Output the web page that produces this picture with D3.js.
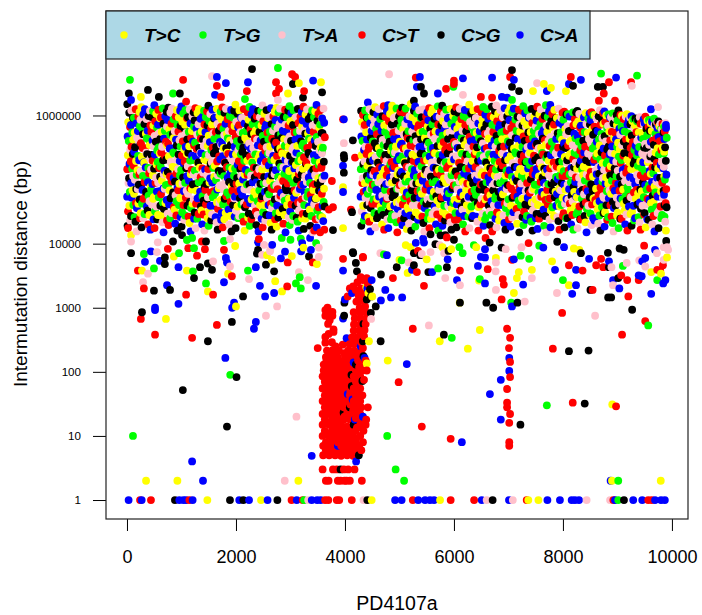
<!DOCTYPE html>
<html>
<head>
<meta charset="utf-8">
<script src="https://cdn.jsdelivr.net/npm/d3@7"></script>
<style>
body { margin: 0; background: #fff; }
text { font-family: "Liberation Sans", Arial, sans-serif; fill: #000; }
</style>
</head>
<body>
<div id="chart"></div>
<script>
const mutationLabels = ["T>C", "T>G", "T>A", "C>T", "C>G", "C>A"];
const mutationColors = ["#ffff00", "#00ff00", "#ffc0cb", "#ff0000", "#000000", "#0000ff"];
const xTicks = [0, 2000, 4000, 6000, 8000, 10000];
const yTicks = [1, 10, 100, 1000, 10000, 1000000];

// distance == 1 row along the bottom
const floorPos = [30,240,270,440,880,960,1035,1085,1145,1205,1475,1890,2060,2135,2240,2460,2580,2760,3020,3115,3225,3250,3325,3390,3490,3555,3635,3695,3850,3895,4125,4340,4410,4490,4920,5040,5245,5345,5470,5560,5635,5745,5940,6370,6510,6600,6710,7010,7080,7335,7365,7550,7715,7945,8160,8220,8295,8435,8865,8925,8955,9015,9120,9290,9455,9565,9630,9690,9800,9870];
const floorType = [5,3,5,3,4,5,5,5,3,5,0,4,5,4,5,0,5,4,3,5,3,1,2,5,5,5,3,3,3,3,3,2,4,0,5,5,3,5,5,5,5,0,3,3,5,2,4,5,2,3,0,0,5,5,5,5,5,2,2,3,5,1,4,5,5,3,3,5,5,5];

// scattered marks read one by one: [position, distance, type]
const sparseMarks = [
[55,3600000,1],[1030,3600000,3],[1560,4100000,2],[1650,4000000,5],[1815,3200000,5],[2295,5300000,4],[2220,3300000,5],[2770,5500000,1],[2735,3300000,3],[3030,4400000,3],[3085,4000000,3],[3155,3200000,0],[3045,3100000,4],[3415,3500000,5],[3560,3300000,0],[1650,2900000,3],[2200,2400000,3],[2790,2600000,3],[2735,2200000,3],[35,2200000,4],[385,2500000,4],[255,1950000,0],[585,1950000,4],[970,2200000,4],[845,2200000,1],[1615,2100000,5],[1725,1950000,3],[3250,2400000,3],[3580,2300000,4],[3230,1900000,4],[2955,2200000,0],[75,1750000,5],[1085,1650000,3],[2165,1800000,1],[2770,1750000,2],
[3965,870000,3],[3980,870000,5],[4145,410000,4],[3980,370000,2],[4185,220000,3],[3980,240000,4],[3985,215000,4],[3965,165000,5],[3980,128000,4],[3760,95000,3],[3965,76000,0],[3965,64000,5],[3780,37000,3],[3705,34000,3],[3780,16300,4],[4130,31000,4],[4110,34000,3],[3965,17500,0],[4150,7100,4],[4330,6100,3],[4810,4400000,2],[4420,1600000,5],[4865,1420000,0],
[5300,3900000,3],[5375,4000000,5],[6165,3800000,5],[6700,3900000,5],[7065,5100000,4],[7030,4000000,3],[7100,3600000,5],[7065,2800000,4],[7195,2400000,4],[6000,3500000,3],[6000,3100000,3],[5990,2800000,1],[5855,2600000,3],[5705,2200000,5],[6165,2100000,2],[5320,2800000,5],[5395,2800000,4],[5450,2200000,4],[5265,1700000,4],[8700,4500000,1],[9360,4200000,1],[8975,3900000,5],[8845,3300000,3],[9250,3300000,3],[9265,2900000,2],[8330,3600000,5],[8145,4000000,3],[8110,3100000,5],[8185,2900000,4],[7525,3200000,2],[7650,3100000,0],[7450,2400000,0],[7780,2700000,0],[7705,2400000,5],[8640,2800000,4],[8735,2800000,4],[8750,2200000,3],[8955,1700000,3],[8660,1700000,3],[8055,2400000,0],[6495,1950000,3],[6700,1900000,3],[6880,1950000,5],[6975,1900000,5],[7065,1750000,1],[9615,1250000,5],[9745,1350000,2],[9890,710000,5],[9745,770000,3],[9635,800000,5],
// lower edge, left block
[20,17500,3],[75,13600,0],[75,10800,2],[75,7100,4],[310,6900,1],[330,5200,5],[200,3800,3],[275,3800,0],[385,3400,2],[495,4100,1],[695,4800,4],[695,6100,4],[605,5400,5],[550,7400,2],[440,7600,5],[565,10500,2],[750,8300,3],[860,6300,0],[955,7100,1],[845,10800,4],[1010,13600,4],[1125,8500,3],[1230,8500,1],[1285,6500,3],[1195,12300,1],[1100,11400,1],[1375,10800,3],[1450,10800,4],[1430,8200,3],[945,4300,5],[1100,3800,0],[1210,3700,1],[1340,4300,4],[1230,2900,4],[1560,3900,4],[1485,4900,4],[1580,5300,2],[1815,6000,5],[1835,5100,5],[1890,4400,2],[1855,3400,0],[1925,3100,3],[1780,2500,5],[2220,3800,1],[2365,4300,5],[2700,3700,4],[2240,2800,2],[2720,2600,0],[2440,2200,5],[2130,1500,4],[2700,1700,5],[2845,1800,0],[2940,2150,3],[3100,2400,1],[3190,2000,1],[3170,3000,1],[3155,3600,2],[3320,2700,2],[3470,2200,5],[2535,1500,5],[2755,1050,2],
[295,2500,2],[310,2000,3],[495,1850,4],[735,2250,5],[790,1900,4],[1085,1600,3],[945,1150,5],[1450,2400,1],[1485,1800,0],[1580,1600,3],[1965,1200,5],[2000,1050,0],[1930,1000,5],[515,1000,5],
[1780,8000,3],[1890,11800,2],[1985,9200,0],[1780,11000,1],[2405,10500,5],[2405,8000,4],[2385,7000,4],[2480,6700,2],[2630,8000,2],[2570,6600,0],[2515,9600,2],[2420,11800,3],[2665,9600,5],[2625,7600,2],[2660,5600,0],[2550,4700,4],[2825,5900,5],[2950,5100,3],[3025,6400,0],[2900,7500,5],[3195,7600,5],[3215,10200,5],[3190,12000,1],[3360,12300,5],[3240,8700,0],[3470,10200,1],[3375,8000,5],[3340,6300,4],[3520,8700,2],[3520,6200,2],[3485,4800,0],[3410,5100,3],[2840,12300,1],[3000,11500,1],[3435,16000,3],[3545,15000,3],[3965,3800,5],[4220,3700,4],[4200,5000,4],[4145,7400,4],[3965,5800,3],[4330,6200,3],
// lower scatter, left block
[275,850,4],[515,920,5],[255,670,3],[715,670,0],[515,380,3],[1195,340,3],[1650,540,3],[1925,600,4],[2365,600,5],[2330,470,5],[2550,750,2],[1485,300,4],[1805,165,5],[1895,90,1],[2010,83,4],[1025,52,4],[1835,14,4],[110,10,1],[1195,4,5],[3110,20,2],[3390,4.9,5],[1395,2,5],[350,2,0],[925,2,0],[2895,2,2],[3145,2,0],[4655,300,4],[4785,150,0],[4985,69,3],[4775,10,1],[4930,3,1],[5085,2,1],
[4475,830,4],[4565,1050,4],[4660,1300,5],[4845,1450,5],[4740,1900,5],[4490,2700,5],[4660,3300,4],[4880,2900,3],[4460,1950,4],
// right block, lower
[5050,1450,5],[5450,2200,3],[5320,3600,3],[5530,3600,4],[5600,3600,5],[5710,4100,1],[5870,4300,4],[6110,3800,3],[5840,2900,2],[6055,2700,5],[6110,2250,2],[6440,4500,5],[6475,2800,1],[6460,2650,0],[6570,2400,5],[6765,3700,2],[6895,2800,3],[6915,2300,3],[6770,1900,2],[6875,1350,3],[7100,1700,0],[7270,2300,5],[7190,3600,0],[7155,2900,0],[7430,3900,0],[7430,2900,2],[7300,1250,2],[7165,1200,4],[7050,1200,1],[7065,1050,5],[6110,1200,4],[6105,1200,0],[6595,1200,4],[6720,1000,4],
[7890,1700,2],[8170,1650,5],[8000,2700,1],[8110,2250,0],[8240,2250,5],[8505,1900,4],[8545,1900,3],[7855,3900,5],[8110,4600,3],[8360,3800,3],[8845,4300,4],[8920,2700,5],[8920,2250,2],[9015,2900,4],[9070,3200,3],[9180,2700,3],[9035,2000,5],[8830,1450,4],[8885,1450,4],[9200,1500,3],[9620,1650,5],[9390,2700,3],[9390,3200,5],[9445,3100,5],[9620,3600,0],[9730,2700,1],[9840,2400,5],[9880,2700,5],[9800,3400,0],[9730,3900,3],[9785,3800,3],
[7985,830,3],[8590,750,2],[9270,930,4],[9565,530,1],[9510,620,3],[9085,380,3],
[5245,470,3],[5540,530,2],[5815,380,4],[5740,300,0],[5960,340,1],[6475,450,0],[6255,230,0],[5135,132,5],
[6975,470,3],[7030,340,3],[7010,235,3],[7015,165,5],[7030,143,3],[7015,103,5],[7030,83,3],[6860,75,5],[6975,54,3],[6660,45,5],[6975,33,3],[6975,28,3],[7030,22,3],[6860,18,5],[7015,16,3],[7220,15,4],[5410,14,3],[5940,9,3],[6145,8,5],[7015,8,3],[7015,7,3],
[7815,230,3],[8110,210,4],[8470,215,4],[7705,30,1],[8180,33,3],[8400,32,4],[8905,31,0],[8975,29,3],
[8875,2,5],[8900,2,0],[9015,2,1],[9795,2,0],
// gap-side marks above the red cluster
[4400,135,0],[4440,300,0],[4480,1500,4],
[6365,9500,1],[5900,7700,4],[5660,9800,4],[5790,8800,0],[5950,8200,0],
[4650,7100,2],[4770,6600,5],[4950,4300,4],[4715,6800,1],
// lower edge, right block
[5435,12000,5],[5570,14000,4],[5755,13500,4],[5840,13600,4],[6000,11500,4],[6100,8800,1],[6160,7100,1],[5820,7100,2],[5885,5700,5],[5380,6600,4],[6620,4000,3],[5870,12500,3],[6410,8800,0],[6570,6100,5],[6495,6200,5],[6570,8200,5],[6655,10400,4],[6580,12300,3],[6875,8700,4],[6770,6000,0],[6770,5100,2],[6950,8200,2],[7240,8800,2],[7370,10200,3],[7225,6500,1],[7380,5800,1],[7100,5700,5],[7065,5600,3],[7565,9300,1],[7640,8700,5],[7800,5300,0],[7895,10700,4],[8020,8800,5],[8200,8400,0],[8300,8000,0],[8330,7100,4],[8480,5800,5],[8610,4600,3],[8240,3900,5],[8700,5800,3],[8845,5300,5],[8825,7200,4],[9170,5000,2],[9100,4500,1],[8890,4300,2],[8740,4300,3],[9040,8400,4],[9115,8000,4],[9400,5500,2],[9510,6000,5],[9455,5300,5],[9510,4400,2],[9490,9300,3],[9725,7100,2],[9690,8000,5],[9910,8800,2],[9930,8000,2],[9850,8800,2],[9910,6100,0],[9850,5600,2],[9835,4600,3],[9895,11000,4],
[5135,17000,0],[5115,9500,0],[5205,8800,0],[5300,10300,5],[5450,10400,5],[5740,9500,2],[5570,7400,2],[5410,6900,2],[5265,7100,4],[5340,7700,3],[5500,5700,0],[5265,4600,4],[5170,5100,2],[5040,5500,1],[5000,5600,0],[5230,3900,5],[5150,3500,0]
];

// red cluster around position 3600-4400
const clusterMarks = [
[3600,5,3],[3710,5,3],[3820,5,3],[3930,4.9,3],[4040,5,3],[4150,4.9,3],[4255,5,4],[4205,4,5],
[3650,6,3],[3760,6,3],[3870,6,3],[3980,6,3],[4090,6,3],[4200,6,3],[4300,6,3],
[3600,7,3],[3710,7,3],[3820,7,3],[3870,7,5],[3930,7,3],[4040,7,3],[4150,7,3],[4260,7,3],
[3650,8,3],[3760,8,3],[3870,8,3],[3980,8,3],[4090,8,3],[4200,8,3],[4330,8,3],
[3590,10,3],[3710,10,3],[3820,10,3],[3930,10,3],[4040,10,3],[4150,10,3],[4280,10,3],
[3630,12,3],[3760,12,3],[3870,12,3],[3980,12,3],[4090,12,3],[4200,12,3],[4340,12,3],
[3590,15,3],[3710,15,3],[3820,15,3],[3930,15,3],[4040,14,3],[4160,15,4],[4280,15,3],[4380,15,3],
[3630,18,3],[3760,18,3],[3870,18,3],[3980,18,3],[4090,18,3],[4180,18,5],[4200,19,3],[4300,18,3],[4390,18,3],
[3590,22,3],[3710,22,3],[3820,22,3],[3930,22,3],[3975,23,4],[4040,22,3],[4160,22,3],[4280,22,3],[4330,20,5],
[3630,28,3],[3760,28,3],[3870,28,3],[3980,28,3],[4090,28,4],[4200,28,3],[4300,28,3],[4420,28,3],
[3590,35,3],[3710,35,3],[3820,35,3],[3930,35,3],[4040,35,3],[4140,37,5],[4160,35,3],[4280,35,3],
[3630,43,3],[3760,43,3],[3870,43,3],[3980,43,3],[4050,45,5],[4090,43,3],[4200,43,3],[4320,43,3],
[3590,55,3],[3710,55,3],[3820,55,3],[3930,55,3],[4040,55,3],[4125,60,4],[4160,55,3],[4280,55,3],
[3630,70,3],[3760,70,3],[3870,70,3],[3980,70,3],[4090,70,3],[4200,70,3],[4320,72,4],[4350,75,3],
[3590,85,3],[3710,85,3],[3820,85,3],[3930,85,3],[4040,85,3],[4120,90,4],[4160,85,3],[4280,85,3],
[3610,105,3],[3760,105,3],[3870,105,3],[3980,105,3],[4090,105,3],[4200,105,3],[4320,105,3],[4400,105,3],
[3610,130,3],[3710,130,3],[3820,130,3],[3930,130,3],[4080,130,3],[4160,140,5],[4200,130,4],[4280,130,3],[4380,150,3],
[3650,170,3],[3760,170,3],[3870,170,3],[4000,170,3],[4110,170,3],[4225,175,3],[4340,175,4],[4310,185,3],[4360,165,5],
[3670,215,3],[3780,220,3],[3890,215,3],[4060,215,3],[4170,215,3],[4290,215,3],[4330,235,3],[4290,250,5],
[3500,235,3],[3640,285,3],[3760,290,3],[3830,250,3],[3960,265,3],[4085,270,3],[4185,275,3],[4300,290,3],[4330,300,4],
[3640,350,3],[3700,390,3],[3790,420,3],[4130,345,3],[4215,345,3],[4310,350,3],[4350,360,3],[4030,335,5],
[3790,460,3],[3690,560,3],[4160,440,3],[4260,440,3],[4360,450,3],[4165,550,3],[4280,550,3],[4340,560,4],[4380,560,3],
[3720,640,3],[3640,750,3],[3770,750,3],[3700,870,3],[3680,1000,3],[3770,860,3],[3640,920,3],
[4180,680,3],[4290,680,3],[4390,670,3],[4160,850,3],[4280,830,3],[4380,850,3],[4270,1000,3],[4370,1050,3],[3965,680,5],[3985,750,4],[4480,670,2],
[4210,1250,3],[4310,1300,3],[4400,1350,4],[4250,1550,3],[4340,1650,3],[4430,1700,0],[4200,1900,3],[4300,2000,3],[4410,2000,5],[4390,2100,0],[4500,1500,0],[4230,2500,3],[4330,2700,3],[4420,2400,3],[4150,2150,3],[4090,2000,3],[4000,1350,5],[3990,1200,4],[4050,1500,3],
[4290,3000,3],[4400,2900,3],[4130,1700,5],
// extra reds between the rows of the body
[3655,6.5,3],[3765,9,3],[3875,9,3],[3985,9,3],[4095,9,3],[4205,9,3],[3660,11,3],[3770,13.5,3],[3880,13.5,3],[3990,13,3],[4100,13.5,3],[4220,13.5,3],[4310,13.5,3],[3650,16.5,3],[3770,20,3],[3880,20,3],[3990,20,3],[4100,20,3],[4240,20,3],[3660,25,3],[3715,25,3],[3825,25,3],[3935,25,3],[4045,25,3],[4150,25,3],[4250,25,3],[3660,31,3],[3770,31,3],[3880,31,3],[3990,31,3],[4100,31,3],[4230,31,3],[3650,39,3],[3770,39,3],[3880,39,3],[3990,39,3],[4215,39,3],[3660,49,3],[3770,49,3],[3880,49,3],[3990,49,3],[4100,49,3],[4220,49,3],[3660,62,3],[3770,62,3],[3880,62,3],[3990,62,3],[4220,62,3],[3650,78,3],[3770,78,3],[3880,78,3],[3990,78,3],[4100,78,3],[4240,78,3],[3660,95,3],[3770,95,3],[3880,95,3],[3990,95,3],[4220,95,3],[3650,118,3],[3715,118,3],[3825,118,3],[3935,118,3],[4050,118,3],[4150,118,3],[4260,118,3],[3660,150,3],[3770,150,3],[3880,150,3],[3990,150,3],[4100,150,3],[4240,150,3],[3990,195,3],[4110,195,3],[4230,195,3],[3720,195,3],[3830,195,3],
// distance 3 and 2 rows
[3590,3,3],[3780,3,3],[3850,3,3],[3920,3,4],[3980,3,3],[4060,3,3],[4175,3,3],
[3650,2,3],[3700,2,3],[3870,2,3],[3920,2,3],[3990,2,3],[4030,2,3],[4090,2,3],[4310,2,3]
];

// dense band, one line per column: positions, distances in kb, type codes
const leftPos = [
[6,41,22,56,11,33,60,16,47,5,38,27,52,3,44,19,58,10],
[160,127,173,142,185,149,132,167,123,178,145,170,129,163,181,138,156,175],
[263,301,248,282,296,257,288,272,307,252,293,260,285,303,276,250,298,268],
[422,398,430,379,403,417,370,427,391,407,385,432,395,414,378,410,389,429],
[502,537,518,552,507,529,556,512,543,497,534,523,548,493,540,515,554,506],
[656,623,669,638,681,645,628,663,619,674,641,666,625,659,677,634,652,671],
[759,797,744,778,792,753,784,768,803,748,789,756,781,799,772,746,794,764],
[918,894,926,875,899,913,866,923,887,903,881,928,891,910,874,906,885,925],
[998,1033,1014,1048,1003,1025,1052,1008,1039,993,1030,1019,1044,989,1036,1011,1050,1002],
[1152,1119,1165,1134,1177,1141,1124,1159,1115,1170,1137,1162,1121,1155,1173,1130,1148,1167],
[1255,1293,1240,1274,1288,1249,1280,1264,1299,1244,1285,1252,1277,1295,1268,1242,1290,1260],
[1414,1390,1422,1371,1395,1409,1362,1419,1383,1399,1377,1424,1387,1406,1370,1402,1381,1421],
[1494,1529,1510,1544,1499,1521,1548,1504,1535,1489,1526,1515,1540,1485,1532,1507,1546,1498],
[1648,1615,1661,1630,1673,1637,1620,1655,1611,1666,1633,1658,1617,1651,1669,1626,1644,1663],
[1751,1789,1736,1770,1784,1745,1776,1760,1795,1740,1781,1748,1773,1791,1764,1738,1786,1756],
[1910,1886,1918,1867,1891,1905,1858,1915,1879,1895,1873,1920,1883,1902,1866,1898,1877,1917],
[1990,2025,2006,2040,1995,2017,2044,2000,2031,1985,2022,2011,2036,1981,2028,2003,2042,1994],
[2144,2111,2157,2126,2169,2133,2116,2151,2107,2162,2129,2154,2113,2147,2165,2122,2140,2159],
[2247,2285,2232,2266,2280,2241,2272,2256,2291,2236,2277,2244,2269,2287,2260,2234,2282,2252],
[2406,2382,2414,2363,2387,2401,2354,2411,2375,2391,2369,2416,2379,2398,2362,2394,2373,2413],
[2486,2521,2502,2536,2491,2513,2540,2496,2527,2481,2518,2507,2532,2477,2524,2499,2538,2490],
[2640,2607,2653,2622,2665,2629,2612,2647,2603,2658,2625,2650,2609,2643,2661,2618,2636,2655],
[2743,2781,2728,2762,2776,2737,2768,2752,2787,2732,2773,2740,2765,2783,2756,2730,2778,2748],
[2902,2878,2910,2859,2883,2897,2850,2907,2871,2887,2865,2912,2875,2894,2858,2890,2869,2909],
[2982,3017,2998,3032,2987,3009,3036,2992,3023,2977,3014,3003,3028,2973,3020,2995,3034,2986],
[3136,3103,3149,3118,3161,3125,3108,3143,3099,3154,3121,3146,3105,3139,3157,3114,3132,3151],
[3239,3277,3224,3258,3272,3233,3264,3248,3283,3228,3269,3236,3261,3279,3252,3226,3274,3244],
[3398,3374,3406,3355,3379,3393,3346,3403,3367,3383,3361,3408,3371,3390,3354,3386,3365,3405],
[3478,3513,3494,3528,3483,3505,3532,3488,3519,3473,3510,3499,3524,3469,3516,3491,3530,3482],
[3606,3573,3619,3588,3631,3595,3578,3613,3569,3624,3591,3616,3575,3609,3627,3584,3602,3621]
];
const leftKb = [
[1500,1100,790,660,470,400,290,240,175,145,105,88,64,54,39,32,23,19],
[1250,920,760,540,450,320,270,195,165,118,99,71,60,43,36,26,22,15.5],
[1350,1040,860,620,510,370,310,225,185,135,114,83,69,50,42,30,25,18],
[1180,980,700,580,415,345,250,210,152,126,91,77,56,46,33,28,20,16.5],
[1450,1060,810,650,480,390,285,245,172,148,107,89,65,53,38,32,24,17.5],
[1290,930,745,550,440,325,265,200,160,120,97,72,59,44,35,27,21.5,15],
[1320,1110,850,610,500,365,305,230,188,132,112,84,68,51,41,29.5,25,19.5],
[1210,970,715,570,420,340,255,208,155,124,93,75,57,46,34,27.5,20.5,16],
[1380,1070,800,640,475,395,295,238,178,142,108,87,66,52,40,31,23.5,18.5],
[1240,940,750,555,445,330,262,198,162,121,96,73,60,45,36,26.5,21,15.5],
[1300,1090,840,625,505,375,300,228,182,138,111,85,67,51,42,30.5,24.5,17.5],
[1190,960,725,565,425,335,258,205,150,128,94,76,55,47,33,28.5,20,16],
[1420,1050,820,635,485,385,290,242,176,146,104,90,63,53,39,31.5,23,19],
[1270,925,740,545,455,322,268,192,164,117,98,70,61,44,35,26,21.5,16.5],
[1340,1100,870,615,495,360,312,232,186,134,113,82,70,50,41,30,24,18],
[1220,985,705,575,410,348,252,212,154,125,92,78,56,45,34,27,20,15.5],
[1480,1075,795,655,465,398,288,248,170,149,106,86,65,54,38,32.5,25,17.5],
[1260,915,755,535,450,318,272,196,158,119,100,71,58,43,37,26.5,22,16],
[1360,1030,855,605,515,368,302,226,190,130,115,84,69,49,43,29.5,24,19],
[1175,975,710,585,418,342,248,215,151,127,90,79,57,46,32,28,19.5,15.5],
[1440,1065,815,645,478,392,282,244,174,144,109,88,64,55,40,31,23,18],
[1300,935,735,560,435,328,260,202,166,116,96,74,59,42,36,27.5,21,16.5],
[1310,1120,845,630,490,378,298,234,180,140,110,81,71,52,39,30,25.5,18.5],
[1230,955,720,578,428,338,256,204,156,123,95,76,54,47,35,28,20.5,15],
[1400,1085,805,670,472,402,292,236,184,136,103,91,66,50,41,32,23.5,19.5],
[1265,945,765,548,448,335,264,194,168,122,101,69,62,44,33,25.5,22,16],
[1370,1035,835,600,520,362,308,222,176,147,112,83,63,53,40,29,24.5,17],
[1200,990,695,590,412,352,246,218,148,129,89,80,58,48,34,27,19,15],
[1460,1055,825,650,462,388,286,240,170,150,105,86,67,51,37,33,25,18],
[1280,910,770,530,458,315,275,190,160,115,102,72,60,45,38,26,22.5,16.5]
];
const leftTypes = [
"440351205342150324","315024503124035142","052143305214531024","243510421350124035",
"503124150423502143","134052341205314025","425013502431045213","031254120345210354",
"510423035142503124","245130412053241305","304521350124053412","153042503214140352",
"421305124350325041","052314430215103524","340125053412241503","513204321540135024",
"042531205143350214","325104413052524130","150342530124205431","431025104352013245",
"203514352041540123","524130215403132504","015243430512325140","342501052134214035",
"150324245013403521","423150510342032415","305241134025521304","142503420513350142",
"534012251304403125","205431143520314053"
];

const rightPos = [
[4296,4331,4312,4346,4301,4323,4350,4306,4337,4291,4328,4317,4342,4287,4334,4309,4348,4300],
[4450,4417,4463,4432,4475,4439,4422,4457,4413,4468,4435,4460,4419,4453,4471,4428,4446,4465],
[4553,4591,4538,4572,4586,4547,4578,4562,4597,4542,4583,4550,4575,4593,4566,4540,4588,4558],
[4712,4688,4720,4669,4693,4707,4660,4717,4681,4697,4675,4722,4685,4704,4668,4700,4679,4719],
[4792,4827,4808,4842,4797,4819,4846,4802,4833,4787,4824,4813,4838,4783,4830,4805,4844,4796],
[4946,4913,4959,4928,4971,4935,4918,4953,4909,4964,4931,4956,4915,4949,4967,4924,4942,4961],
[5049,5087,5034,5068,5082,5043,5074,5058,5093,5038,5079,5046,5071,5089,5062,5036,5084,5054],
[5208,5184,5216,5165,5189,5203,5156,5213,5177,5193,5171,5218,5181,5200,5164,5196,5175,5215],
[5288,5323,5304,5338,5293,5315,5342,5298,5329,5283,5320,5309,5334,5279,5326,5301,5340,5292],
[5442,5409,5455,5424,5467,5431,5414,5449,5405,5460,5427,5452,5411,5445,5463,5420,5438,5457],
[5545,5583,5530,5564,5578,5539,5570,5554,5589,5534,5575,5542,5567,5585,5558,5532,5580,5550],
[5704,5680,5712,5661,5685,5699,5652,5709,5673,5689,5667,5714,5677,5696,5660,5692,5671,5711],
[5784,5819,5800,5834,5789,5811,5838,5794,5825,5779,5816,5805,5830,5775,5822,5797,5836,5788],
[5938,5905,5951,5920,5963,5927,5910,5945,5901,5956,5923,5948,5907,5941,5959,5916,5934,5953],
[6041,6079,6026,6060,6074,6035,6066,6050,6085,6030,6071,6038,6063,6081,6054,6028,6076,6046],
[6200,6176,6208,6157,6181,6195,6148,6205,6169,6185,6163,6210,6173,6192,6156,6188,6167,6207],
[6280,6315,6296,6330,6285,6307,6334,6290,6321,6275,6312,6301,6326,6271,6318,6293,6332,6284],
[6434,6401,6447,6416,6459,6423,6406,6441,6397,6452,6419,6444,6403,6437,6455,6412,6430,6449],
[6537,6575,6522,6556,6570,6531,6562,6546,6581,6526,6567,6534,6559,6577,6550,6524,6572,6542],
[6696,6672,6704,6653,6677,6691,6644,6701,6665,6681,6659,6706,6669,6688,6652,6684,6663,6703],
[6776,6811,6792,6826,6781,6803,6830,6786,6817,6771,6808,6797,6822,6767,6814,6789,6828,6780],
[6930,6897,6943,6912,6955,6919,6902,6937,6893,6948,6915,6940,6899,6933,6951,6908,6926,6945],
[7033,7071,7018,7052,7066,7027,7058,7042,7077,7022,7063,7030,7055,7073,7046,7020,7068,7038],
[7192,7168,7200,7149,7173,7187,7140,7197,7161,7177,7155,7202,7165,7184,7148,7180,7159,7199],
[7272,7307,7288,7322,7277,7299,7326,7282,7313,7267,7304,7293,7318,7263,7310,7285,7324,7276],
[7426,7393,7439,7408,7451,7415,7398,7433,7389,7444,7411,7436,7395,7429,7447,7404,7422,7441],
[7529,7567,7514,7548,7562,7523,7554,7538,7573,7518,7559,7526,7551,7569,7542,7516,7564,7534],
[7688,7664,7696,7645,7669,7683,7636,7693,7657,7673,7651,7698,7661,7680,7644,7676,7655,7695],
[7768,7803,7784,7818,7773,7795,7822,7778,7809,7763,7800,7789,7814,7759,7806,7781,7820,7772],
[7922,7889,7935,7904,7947,7911,7894,7929,7885,7940,7907,7932,7891,7925,7943,7900,7918,7937],
[8025,8063,8010,8044,8058,8019,8050,8034,8069,8014,8055,8022,8047,8065,8038,8012,8060,8030],
[8184,8160,8192,8141,8165,8179,8132,8189,8153,8169,8147,8194,8157,8176,8140,8172,8151,8191],
[8264,8299,8280,8314,8269,8291,8318,8274,8305,8259,8296,8285,8310,8255,8302,8277,8316,8268],
[8418,8385,8431,8400,8443,8407,8390,8425,8381,8436,8403,8428,8387,8421,8439,8396,8414,8433],
[8521,8559,8506,8540,8554,8515,8546,8530,8565,8510,8551,8518,8543,8561,8534,8508,8556,8526],
[8680,8656,8688,8637,8661,8675,8628,8685,8649,8665,8643,8690,8653,8672,8636,8668,8647,8687],
[8760,8795,8776,8810,8765,8787,8814,8770,8801,8755,8792,8781,8806,8751,8798,8773,8812,8764],
[8914,8881,8927,8896,8939,8903,8886,8921,8877,8932,8899,8924,8883,8917,8935,8892,8910,8929],
[9017,9055,9002,9036,9050,9011,9042,9026,9061,9006,9047,9014,9039,9057,9030,9004,9052,9022],
[9176,9152,9184,9133,9157,9171,9124,9181,9145,9161,9139,9186,9149,9168,9132,9164,9143,9183],
[9256,9291,9272,9306,9261,9283,9310,9266,9297,9251,9288,9277,9302,9247,9294,9269,9308,9260],
[9410,9377,9423,9392,9435,9399,9382,9417,9373,9428,9395,9420,9379,9413,9431,9388,9406,9425],
[9513,9551,9498,9532,9546,9507,9538,9522,9557,9502,9543,9510,9535,9553,9526,9500,9548,9518],
[9672,9648,9680,9629,9653,9667,9620,9677,9641,9657,9635,9682,9645,9664,9628,9660,9639,9679],
[9752,9787,9768,9802,9757,9779,9806,9762,9793,9747,9784,9773,9798,9743,9790,9765,9804,9756],
[9880,9852,9893,9868,9905,9875,9858,9888,9850,9899,9871,9896,9855,9885,9902,9864,9877,9890]
];
const rightKb = [
[1180,1020,790,660,470,400,290,240,175,145,105,88,64,54,39,32,23,19],
[1250,920,760,540,450,320,270,195,165,118,99,71,60,43,36,26,22,15.5],
[1350,1040,860,620,510,370,310,225,185,135,114,83,69,50,42,30,25,18],
[1400,980,700,580,415,345,250,210,152,126,91,77,56,46,33,28,20,16.5],
[1450,1060,810,650,480,390,285,245,172,148,107,89,65,53,38,32,24,17.5],
[1290,930,745,550,440,325,265,200,160,120,97,72,59,44,35,27,21.5,15],
[1320,1110,850,610,500,365,305,230,188,132,112,84,68,51,41,29.5,25,19.5],
[1510,970,715,570,420,340,255,208,155,124,93,75,57,46,34,27.5,20.5,16],
[1380,1070,800,640,475,395,295,238,178,142,108,87,66,52,40,31,23.5,18.5],
[1240,940,750,555,445,330,262,198,162,121,96,73,60,45,36,26.5,21,15.5],
[1300,1090,840,625,505,375,300,228,182,138,111,85,67,51,42,30.5,24.5,17.5],
[1390,960,725,565,425,335,258,205,150,128,94,76,55,47,33,28.5,20,16],
[1420,1050,820,635,485,385,290,242,176,146,104,90,63,53,39,31.5,23,19],
[1270,925,740,545,455,322,268,192,164,117,98,70,61,44,35,26,21.5,16.5],
[1340,1100,870,615,495,360,312,232,186,134,113,82,70,50,41,30,24,18],
[1220,985,705,575,410,348,252,212,154,125,92,78,56,45,34,27,20,15.5],
[1480,1075,795,655,465,398,288,248,170,149,106,86,65,54,38,32.5,25,17.5],
[1260,915,755,535,450,318,272,196,158,119,100,71,58,43,37,26.5,22,16],
[1360,1030,855,605,515,368,302,226,190,130,115,84,69,49,43,29.5,24,19],
[1375,975,710,585,418,342,248,215,151,127,90,79,57,46,32,28,19.5,15.5],
[1440,1065,815,645,478,392,282,244,174,144,109,88,64,55,40,31,23,18],
[1300,935,735,560,435,328,260,202,166,116,96,74,59,42,36,27.5,21,16.5],
[1310,1120,845,630,490,378,298,234,180,140,110,81,71,52,39,30,25.5,18.5],
[1230,955,720,578,428,338,256,204,156,123,95,76,54,47,35,28,20.5,15],
[1400,1085,805,670,472,402,292,236,184,136,103,91,66,50,41,32,23.5,19.5],
[1265,945,765,548,448,335,264,194,168,122,101,69,62,44,33,25.5,22,16],
[1370,1035,835,600,520,362,308,222,176,147,112,83,63,53,40,29,24.5,17],
[1450,990,695,590,412,352,246,218,148,129,89,80,58,48,34,27,19,15],
[1460,1055,825,650,462,388,286,240,170,150,105,86,67,51,37,33,25,18],
[1280,910,770,530,458,315,275,190,160,115,102,72,60,45,38,26,22.5,16.5],
[1150,1040,860,620,510,370,310,225,185,135,114,83,69,50,42,30,25,18],
[1120,980,700,580,415,345,250,210,152,126,91,77,56,46,33,28,20,16.5],
[1180,1060,810,650,480,390,285,245,172,148,107,89,65,53,38,32,24,17.5],
[1090,930,745,550,440,325,265,200,160,120,97,72,59,44,35,27,21.5,15],
[1130,1010,850,610,500,365,305,230,188,132,112,84,68,51,41,29.5,25,19.5],
[1210,970,715,570,420,340,255,208,155,124,93,75,57,46,34,27.5,20.5,16],
[1160,1000,800,640,475,395,295,238,178,142,108,87,66,52,40,31,23.5,18.5],
[1080,940,750,555,445,330,262,198,162,121,96,73,60,45,36,26.5,21,15.5],
[1200,1020,840,625,505,375,300,228,182,138,111,85,67,51,42,30.5,24.5,17.5],
[1050,960,725,565,425,335,258,205,150,128,94,76,55,47,33,28.5,20,16],
[980,880,820,635,485,385,290,242,176,146,104,90,63,53,39,31.5,23,19],
[940,850,740,545,455,322,268,192,164,117,98,70,61,44,35,26,21.5,16.5],
[960,830,760,615,495,360,312,232,186,134,113,82,70,50,41,30,24,18],
[890,790,705,575,410,348,252,212,154,125,92,78,56,45,34,27,20,15.5],
[810,740,680,620,465,398,288,248,170,149,106,86,65,54,38,32.5,25,17.5],
[760,690,640,560,450,318,272,196,158,119,100,71,58,43,37,26.5,22,16]
];
const rightTypes = [
"430251504123350214","215043340512124035","052134420351503142","340521135024251403",
"503214041352320415","124350253041405213","431025310542013245","025143542013130524",
"510342203514342051","243105431052015342","305421150243524103","153024024315402351",
"420513352104231045","051243403125150324","341052520431205134","513240134502042513",
"042135215340351042","325014043251140523","150432521034403215","431205104352052143",
"203541350124415302","524103243015031254","015324402513340125","342150125043513204",
"150234534012204351","423015051342302514","305124243501120435","142530314052035412",
"534021150324431025","205413243150510243","341025402135052314","153402035214420351",
"420351314025503142","052143540213231405","315042125304403152","243510012453350124",
"503142431205124035","124305250413045312","431520013245352041","025134405321140253",
"510243134052325014","243051501324054123","305412420135132450","152034243150401325",
"420153315042053214","205314042513534120"
];

// second layer of the band, in between the columns above
const fillPos = [
[80,110,72,98,114,84,106,68,95,112,76,102,88,117,74],
[231,207,237,199,220,240,203,224,194,228,217,197,233,210,239],
[328,358,320,346,362,332,354,316,343,360,324,350,336,365,322],
[479,455,485,447,468,488,451,472,442,476,465,445,481,458,487],
[576,606,568,594,610,580,602,564,591,608,572,598,584,613,570],
[727,703,733,695,716,736,699,720,690,724,713,693,729,706,735],
[824,854,816,842,858,828,850,812,839,856,820,846,832,861,818],
[975,951,981,943,964,984,947,968,938,972,961,941,977,954,983],
[1072,1102,1064,1090,1106,1076,1098,1060,1087,1104,1068,1094,1080,1109,1066],
[1223,1199,1229,1191,1212,1232,1195,1216,1186,1220,1209,1189,1225,1202,1231],
[1320,1350,1312,1338,1354,1324,1346,1308,1335,1352,1316,1342,1328,1357,1314],
[1471,1447,1477,1439,1460,1480,1443,1464,1434,1468,1457,1437,1473,1450,1479],
[1568,1598,1560,1586,1602,1572,1594,1556,1583,1600,1564,1590,1576,1605,1562],
[1719,1695,1725,1687,1708,1728,1691,1712,1682,1716,1705,1685,1721,1698,1727],
[1816,1846,1808,1834,1850,1820,1842,1804,1831,1848,1812,1838,1824,1853,1810],
[1967,1943,1973,1935,1956,1976,1939,1960,1930,1964,1953,1933,1969,1946,1975],
[2064,2094,2056,2082,2098,2068,2090,2052,2079,2096,2060,2086,2072,2101,2058],
[2215,2191,2221,2183,2204,2224,2187,2208,2178,2212,2201,2181,2217,2194,2223],
[2312,2342,2304,2330,2346,2316,2338,2300,2327,2344,2308,2334,2320,2349,2306],
[2463,2439,2469,2431,2452,2472,2435,2456,2426,2460,2449,2429,2465,2442,2471],
[2560,2590,2552,2578,2594,2564,2586,2548,2575,2592,2556,2582,2568,2597,2554],
[2711,2687,2717,2679,2700,2720,2683,2704,2674,2708,2697,2677,2713,2690,2719],
[2808,2838,2800,2826,2842,2812,2834,2796,2823,2840,2804,2830,2816,2845,2802],
[2959,2935,2965,2927,2948,2968,2931,2952,2922,2956,2945,2925,2961,2938,2967],
[3056,3086,3048,3074,3090,3060,3082,3044,3071,3088,3052,3078,3064,3093,3050],
[3207,3183,3213,3175,3196,3216,3179,3200,3170,3204,3193,3173,3209,3186,3215],
[3304,3334,3296,3322,3338,3308,3330,3292,3319,3336,3300,3326,3312,3341,3298],
[3455,3431,3461,3423,3444,3464,3427,3448,3418,3452,3441,3421,3457,3434,3463],
[3552,3582,3544,3570,3586,3556,3578,3540,3567,3584,3548,3574,3560,3589,3546],
[4370,4400,4362,4388,4404,4374,4396,4358,4385,4402,4366,4392,4378,4407,4364],
[4521,4497,4527,4489,4510,4530,4493,4514,4484,4518,4507,4487,4523,4500,4529],
[4618,4648,4610,4636,4652,4622,4644,4606,4633,4650,4614,4640,4626,4655,4612],
[4769,4745,4775,4737,4758,4778,4741,4762,4732,4766,4755,4735,4771,4748,4777],
[4866,4896,4858,4884,4900,4870,4892,4854,4881,4898,4862,4888,4874,4903,4860],
[5017,4993,5023,4985,5006,5026,4989,5010,4980,5014,5003,4983,5019,4996,5025],
[5114,5144,5106,5132,5148,5118,5140,5102,5129,5146,5110,5136,5122,5151,5108],
[5265,5241,5271,5233,5254,5274,5237,5258,5228,5262,5251,5231,5267,5244,5273],
[5362,5392,5354,5380,5396,5366,5388,5350,5377,5394,5358,5384,5370,5399,5356],
[5513,5489,5519,5481,5502,5522,5485,5506,5476,5510,5499,5479,5515,5492,5521],
[5610,5640,5602,5628,5644,5614,5636,5598,5625,5642,5606,5632,5618,5647,5604],
[5761,5737,5767,5729,5750,5770,5733,5754,5724,5758,5747,5727,5763,5740,5769],
[5858,5888,5850,5876,5892,5862,5884,5846,5873,5890,5854,5880,5866,5895,5852],
[6009,5985,6015,5977,5998,6018,5981,6002,5972,6006,5995,5975,6011,5988,6017],
[6106,6136,6098,6124,6140,6110,6132,6094,6121,6138,6102,6128,6114,6143,6100],
[6257,6233,6263,6225,6246,6266,6229,6250,6220,6254,6243,6223,6259,6236,6265],
[6354,6384,6346,6372,6388,6358,6380,6342,6369,6386,6350,6376,6362,6391,6348],
[6505,6481,6511,6473,6494,6514,6477,6498,6468,6502,6491,6471,6507,6484,6513],
[6602,6632,6594,6620,6636,6606,6628,6590,6617,6634,6598,6624,6610,6639,6596],
[6753,6729,6759,6721,6742,6762,6725,6746,6716,6750,6739,6719,6755,6732,6761],
[6850,6880,6842,6868,6884,6854,6876,6838,6865,6882,6846,6872,6858,6887,6844],
[7001,6977,7007,6969,6990,7010,6973,6994,6964,6998,6987,6967,7003,6980,7009],
[7098,7128,7090,7116,7132,7102,7124,7086,7113,7130,7094,7120,7106,7135,7092],
[7249,7225,7255,7217,7238,7258,7221,7242,7212,7246,7235,7215,7251,7228,7257],
[7346,7376,7338,7364,7380,7350,7372,7334,7361,7378,7342,7368,7354,7383,7340],
[7497,7473,7503,7465,7486,7506,7469,7490,7460,7494,7483,7463,7499,7476,7505],
[7594,7624,7586,7612,7628,7598,7620,7582,7609,7626,7590,7616,7602,7631,7588],
[7745,7721,7751,7713,7734,7754,7717,7738,7708,7742,7731,7711,7747,7724,7753],
[7842,7872,7834,7860,7876,7846,7868,7830,7857,7874,7838,7864,7850,7879,7836],
[7993,7969,7999,7961,7982,8002,7965,7986,7956,7990,7979,7959,7995,7972,8001],
[8090,8120,8082,8108,8124,8094,8116,8078,8105,8122,8086,8112,8098,8127,8084],
[8241,8217,8247,8209,8230,8250,8213,8234,8204,8238,8227,8207,8243,8220,8249],
[8338,8368,8330,8356,8372,8342,8364,8326,8353,8370,8334,8360,8346,8375,8332],
[8489,8465,8495,8457,8478,8498,8461,8482,8452,8486,8475,8455,8491,8468,8497],
[8586,8616,8578,8604,8620,8590,8612,8574,8601,8618,8582,8608,8594,8623,8580],
[8737,8713,8743,8705,8726,8746,8709,8730,8700,8734,8723,8703,8739,8716,8745],
[8834,8864,8826,8852,8868,8838,8860,8822,8849,8866,8830,8856,8842,8871,8828],
[8985,8961,8991,8953,8974,8994,8957,8978,8948,8982,8971,8951,8987,8964,8993],
[9082,9112,9074,9100,9116,9086,9108,9070,9097,9114,9078,9104,9090,9119,9076],
[9233,9209,9239,9201,9222,9242,9205,9226,9196,9230,9219,9199,9235,9212,9241],
[9330,9360,9322,9348,9364,9334,9356,9318,9345,9362,9326,9352,9338,9367,9324],
[9481,9457,9487,9449,9470,9490,9453,9474,9444,9478,9467,9447,9483,9460,9489],
[9578,9608,9570,9596,9612,9582,9604,9566,9593,9610,9574,9600,9586,9615,9572],
[9729,9705,9735,9697,9718,9738,9701,9722,9692,9726,9715,9695,9731,9708,9737],
[9826,9856,9818,9844,9860,9830,9852,9814,9841,9858,9822,9848,9834,9863,9820]
];
const fillKb = [
[1200,920,710,545,420,325,250,192,148,114,88,68,52,40,27],
[1130,960,680,570,395,340,235,200,140,120,83,71,49,42,25],
[1260,880,735,520,440,310,262,183,155,108,92,64,54,38,29],
[1170,945,695,555,405,332,242,196,144,117,85,69,50,41,24],
[1220,905,720,535,430,318,255,188,151,111,90,66,53,39,28],
[1140,970,670,575,390,345,232,204,138,122,82,72,48,43,23],
[1280,870,745,515,445,305,266,180,158,106,93,63,55,37,30],
[1185,935,690,560,410,328,245,194,146,116,86,68,51,40,26],
[1210,915,715,540,425,322,252,190,150,113,89,67,52,39,27.5],
[1120,965,675,572,392,342,236,202,141,121,84,70,49,42,24.5],
[1250,885,730,525,435,312,260,185,153,109,91,65,54,38,29],
[1160,950,700,550,400,335,240,198,143,118,85,69,50,41,25],
[1230,900,725,530,432,316,256,187,152,110,90,66,53,39,28.5],
[1150,975,665,580,388,348,230,206,137,123,81,73,48,43,23.5],
[1270,875,740,518,442,308,264,182,156,107,93,63,55,37,30],
[1190,930,685,565,412,326,247,193,147,115,87,67,51,40,26.5],
[1200,925,705,548,418,328,248,194,146,115,87,69,51,41,27],
[1125,955,685,568,398,338,238,198,142,119,84,70,50,41,25.5],
[1255,890,730,522,438,312,260,184,154,109,91,65,53,39,28],
[1175,940,700,552,408,330,244,195,145,116,86,68,50,40,24.5],
[1215,910,718,538,428,320,254,189,150,112,89,67,52,40,28],
[1145,965,675,578,394,343,234,203,139,121,82,71,49,43,24],
[1275,865,740,512,448,306,268,179,157,105,94,62,56,37,31],
[1180,940,695,558,408,326,246,193,147,115,87,68,51,40,26],
[1205,920,712,542,422,324,250,191,149,113,88,68,52,39,27],
[1135,960,678,574,393,341,236,201,140,120,83,71,49,42,25],
[1245,882,738,524,436,311,261,184,155,108,92,64,54,38,29.5],
[1165,948,692,553,403,334,241,197,143,118,85,69,50,41,24],
[1225,902,722,532,431,317,257,186,152,110,91,65,53,39,27],
[1200,920,710,545,420,325,250,192,148,114,88,68,52,40,27],
[1130,960,680,570,395,340,235,200,140,120,83,71,49,42,25],
[1260,880,735,520,440,310,262,183,155,108,92,64,54,38,29],
[1170,945,695,555,405,332,242,196,144,117,85,69,50,41,24],
[1220,905,720,535,430,318,255,188,151,111,90,66,53,39,28],
[1140,970,670,575,390,345,232,204,138,122,82,72,48,43,23],
[1280,870,745,515,445,305,266,180,158,106,93,63,55,37,30],
[1185,935,690,560,410,328,245,194,146,116,86,68,51,40,26],
[1210,915,715,540,425,322,252,190,150,113,89,67,52,39,27.5],
[1120,965,675,572,392,342,236,202,141,121,84,70,49,42,24.5],
[1250,885,730,525,435,312,260,185,153,109,91,65,54,38,29],
[1160,950,700,550,400,335,240,198,143,118,85,69,50,41,25],
[1230,900,725,530,432,316,256,187,152,110,90,66,53,39,28.5],
[1150,975,665,580,388,348,230,206,137,123,81,73,48,43,23.5],
[1270,875,740,518,442,308,264,182,156,107,93,63,55,37,30],
[1190,930,685,565,412,326,247,193,147,115,87,67,51,40,26.5],
[1200,925,705,548,418,328,248,194,146,115,87,69,51,41,27],
[1125,955,685,568,398,338,238,198,142,119,84,70,50,41,25.5],
[1255,890,730,522,438,312,260,184,154,109,91,65,53,39,28],
[1175,940,700,552,408,330,244,195,145,116,86,68,50,40,24.5],
[1215,910,718,538,428,320,254,189,150,112,89,67,52,40,28],
[1145,965,675,578,394,343,234,203,139,121,82,71,49,43,24],
[1275,865,740,512,448,306,268,179,157,105,94,62,56,37,31],
[1180,940,695,558,408,326,246,193,147,115,87,68,51,40,26],
[1205,920,712,542,422,324,250,191,149,113,88,68,52,39,27],
[1135,960,678,574,393,341,236,201,140,120,83,71,49,42,25],
[1245,882,738,524,436,311,261,184,155,108,92,64,54,38,29.5],
[1165,948,692,553,403,334,241,197,143,118,85,69,50,41,24],
[1225,902,722,532,431,317,257,186,152,110,91,65,53,39,27],
[1100,920,710,545,420,325,250,192,148,114,88,68,52,40,27],
[1050,960,680,570,395,340,235,200,140,120,83,71,49,42,25],
[1120,880,735,520,440,310,262,183,155,108,92,64,54,38,29],
[1030,945,695,555,405,332,242,196,144,117,85,69,50,41,24],
[1080,905,720,535,430,318,255,188,151,111,90,66,53,39,28],
[1010,900,670,575,390,345,232,204,138,122,82,72,48,43,23],
[1090,870,745,515,445,305,266,180,158,106,93,63,55,37,30],
[1040,935,690,560,410,328,245,194,146,116,86,68,51,40,26],
[1020,915,715,540,425,322,252,190,150,113,89,67,52,39,27.5],
[990,880,675,572,392,342,236,202,141,121,84,70,49,42,24.5],
[930,850,730,525,435,312,260,185,153,109,91,65,54,38,29],
[900,810,700,550,400,335,240,198,143,118,85,69,50,41,25],
[880,790,725,530,432,316,256,187,152,110,90,66,53,39,28.5],
[850,760,665,580,388,348,230,206,137,123,81,73,48,43,23.5],
[780,720,640,518,442,308,264,182,156,107,93,63,55,37,30],
[740,670,610,540,428,320,254,189,150,112,89,67,52,40,28]
];
const fillTypes = [
"245103431250514","031524150342403","524013205134351","140352432051025",
"305241013425140","452130345012503","213405120534432","504321452103015",
"130245034512341","421053513240205","052134240315543","314520105243430",
"540213421053152","103452354120025","235014043521310","410325520143245",
"053241134205412","324105405312530","541032213450124","120453052341305",
"405312130524254","031245504213413","252140341025350","413520025134102",
"104352245013541","530241102435320","245013430521154","012354514230423",
"351420203145051",
"143052321405245","402513054231130","215340143025504","530124420351312",
"024351135204451","341205510432023","152430243015305","405213031524124",
"213045452301530","530142104253241","041325325410152","324510140352403",
"152043413205520","405231250134013","230514034125345","513402421530201",
"042153305241415","320541152034230","154203240513341","401352513024125",
"235104034215450","042315501342123","513240124503305","324051430125214",
"150432215034541","402153343510025","231540120435304","514023405213132",
"043251232140450","325104510342013","152403043125234","430512124350501",
"205341351024143","514023240315420","023451132540305","340125405213214",
"152034513402531","420351024135240","031542315240103","254103403521350",
"410325140253045","532014251340123","103452425013504","245130034521312",
"312450125034241"
];

const width = 702, height = 615;
const plot = { left: 106, right: 688, top: 11, bottom: 519 };

const svg = d3.select("#chart").append("svg")
    .attr("width", width)
    .attr("height", height);

const xScale = d3.scaleLinear()
    .domain([-385, 10295])
    .range([plot.left, plot.right]);

const yScale = d3.scaleLog()
    .domain([Math.pow(10, -0.296), Math.pow(10, 7.63)])
    .range([plot.bottom, plot.top]);

// put all the groups together and draw in genome order
let marks = [];
floorPos.forEach((p, i) => marks.push({ pos: p, dist: 1, type: floorType[i] }));
sparseMarks.concat(clusterMarks).forEach(d => marks.push({ pos: d[0], dist: d[1], type: d[2] }));

function addBand(posRows, kbRows, typeRows) {
    posRows.forEach((row, c) => {
        row.forEach((p, r) => {
            marks.push({ pos: p, dist: kbRows[c][r] * 1000, type: +typeRows[c][r] });
        });
    });
}
addBand(leftPos, leftKb, leftTypes);
addBand(rightPos, rightKb, rightTypes);
addBand(fillPos, fillKb, fillTypes);
marks.sort((a, b) => d3.ascending(a.pos, b.pos));

svg.append("g")
    .selectAll("circle")
    .data(marks)
    .enter()
    .append("circle")
    .attr("cx", d => xScale(d.pos))
    .attr("cy", d => yScale(d.dist))
    .attr("r", 3.9)
    .attr("fill", d => mutationColors[d.type]);

// axes, R style
const xAxis = svg.append("g")
    .attr("transform", `translate(0, ${plot.bottom})`)
    .call(d3.axisBottom(xScale).tickValues(xTicks).tickFormat(d3.format("d")).tickSize(12).tickPadding(19));
xAxis.select(".domain").remove();
xAxis.selectAll("text").style("font-size", "18px");
xAxis.selectAll("line").attr("stroke", "#000");

const yAxis = svg.append("g")
    .attr("transform", `translate(${plot.left}, 0)`)
    .call(d3.axisLeft(yScale).tickValues(yTicks).tickFormat(d3.format("d")).tickSize(13).tickPadding(12));
yAxis.select(".domain").remove();
yAxis.selectAll("text").style("font-size", "11.6px").attr("fill", "#1a1a1a");

svg.append("rect")
    .attr("x", plot.left)
    .attr("y", plot.top)
    .attr("width", plot.right - plot.left)
    .attr("height", plot.bottom - plot.top)
    .attr("fill", "none")
    .attr("stroke", "#222")
    .attr("stroke-width", 1.2);

// legend
const legendDotX = [124, 203, 282, 362, 441, 520];
const legend = svg.append("g");
legend.append("rect")
    .attr("x", plot.left)
    .attr("y", plot.top)
    .attr("width", 484)
    .attr("height", 48)
    .attr("fill", "lightblue")
    .attr("stroke", "#222")
    .attr("stroke-width", 1.2);

legend.selectAll("circle")
    .data(mutationLabels)
    .enter()
    .append("circle")
    .attr("cx", (d, i) => legendDotX[i])
    .attr("cy", 35)
    .attr("r", 3.7)
    .attr("fill", (d, i) => mutationColors[i]);

legend.selectAll("text")
    .data(mutationLabels)
    .enter()
    .append("text")
    .attr("x", (d, i) => legendDotX[i] + 20)
    .attr("y", 41.5)
    .style("font-size", "19px")
    .style("font-weight", "bold")
    .style("font-style", "italic")
    .text(d => d);

svg.append("text")
    .attr("x", 397)
    .attr("y", 610)
    .attr("text-anchor", "middle")
    .style("font-size", "19.5px")
    .text("PD4107a");

svg.append("text")
    .attr("transform", "rotate(-90)")
    .attr("x", -274)
    .attr("y", 27)
    .attr("text-anchor", "middle")
    .style("font-size", "19px")
    .text("Intermutation distance (bp)");
</script>
</body>
</html>
